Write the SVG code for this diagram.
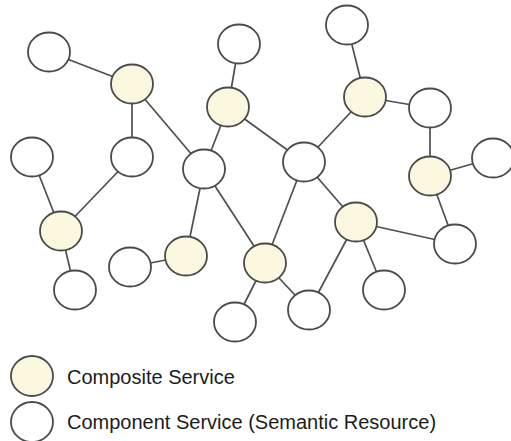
<svg xmlns="http://www.w3.org/2000/svg" width="511" height="441" viewBox="0 0 511 441">
  <style>
    .edge { stroke: #4f4f4f; stroke-width: 1.7; fill: none; }
    .node { stroke: #4a4a4a; stroke-width: 1.8; }
    .composite { fill: #fcf8df; }
    .component { fill: #ffffff; }
    .label { font-family: "Liberation Sans", Arial, sans-serif; font-size: 20px; fill: #1c1c1c; }
  </style>
  <defs>
    <ellipse id="shape" cx="0" cy="0" rx="21" ry="19.5"/>
  </defs>
  <rect width="511" height="441" fill="#ffffff"/>

  <!-- connectors, drawn first so the nodes cover their ends -->
  <g id="connectors" class="edge">
    <line x1="49" y1="52" x2="132" y2="84"/>
    <line x1="132" y1="84" x2="132" y2="157"/>
    <line x1="132" y1="84" x2="204" y2="169"/>
    <line x1="239" y1="44" x2="228" y2="107"/>
    <line x1="228" y1="107" x2="204" y2="169"/>
    <line x1="228" y1="107" x2="304" y2="162"/>
    <line x1="204" y1="169" x2="186" y2="256"/>
    <line x1="204" y1="169" x2="265" y2="263"/>
    <line x1="304" y1="162" x2="365" y2="97"/>
    <line x1="304" y1="162" x2="265" y2="263"/>
    <line x1="304" y1="162" x2="356" y2="222"/>
    <line x1="347" y1="25" x2="365" y2="97"/>
    <line x1="365" y1="97" x2="430" y2="108"/>
    <line x1="430" y1="108" x2="430" y2="176"/>
    <line x1="430" y1="176" x2="493" y2="158"/>
    <line x1="430" y1="176" x2="455" y2="244"/>
    <line x1="356" y1="222" x2="455" y2="244"/>
    <line x1="356" y1="222" x2="309" y2="310"/>
    <line x1="356" y1="222" x2="384" y2="290"/>
    <line x1="265" y1="263" x2="309" y2="310"/>
    <line x1="265" y1="263" x2="235" y2="322"/>
    <line x1="32" y1="157" x2="61" y2="231"/>
    <line x1="132" y1="157" x2="61" y2="231"/>
    <line x1="61" y1="231" x2="75" y2="290"/>
    <line x1="130" y1="267" x2="186" y2="256"/>
  </g>

  <!-- composite services -->
  <g id="n-composite-1"><use href="#shape" x="132" y="84" class="node composite"/></g>
  <g id="n-composite-2"><use href="#shape" x="228" y="107" class="node composite"/></g>
  <g id="n-composite-3"><use href="#shape" x="365" y="97" class="node composite"/></g>
  <g id="n-composite-4"><use href="#shape" x="430" y="176" class="node composite"/></g>
  <g id="n-composite-5"><use href="#shape" x="61" y="231" class="node composite"/></g>
  <g id="n-composite-6"><use href="#shape" x="186" y="256" class="node composite"/></g>
  <g id="n-composite-7"><use href="#shape" x="265" y="263" class="node composite"/></g>
  <g id="n-composite-8"><use href="#shape" x="356" y="222" class="node composite"/></g>

  <!-- component services -->
  <g id="n-component-1"><use href="#shape" x="49" y="52" class="node component"/></g>
  <g id="n-component-2"><use href="#shape" x="239" y="44" class="node component"/></g>
  <g id="n-component-3"><use href="#shape" x="347" y="25" class="node component"/></g>
  <g id="n-component-4"><use href="#shape" x="430" y="108" class="node component"/></g>
  <g id="n-component-5"><use href="#shape" x="493" y="158" class="node component"/></g>
  <g id="n-component-6"><use href="#shape" x="32" y="157" class="node component"/></g>
  <g id="n-component-7"><use href="#shape" x="132" y="157" class="node component"/></g>
  <g id="n-component-8"><use href="#shape" x="204" y="169" class="node component"/></g>
  <g id="n-component-9"><use href="#shape" x="304" y="162" class="node component"/></g>
  <g id="n-component-10"><use href="#shape" x="75" y="290" class="node component"/></g>
  <g id="n-component-11"><use href="#shape" x="130" y="267" class="node component"/></g>
  <g id="n-component-12"><use href="#shape" x="235" y="322" class="node component"/></g>
  <g id="n-component-13"><use href="#shape" x="309" y="310" class="node component"/></g>
  <g id="n-component-14"><use href="#shape" x="384" y="290" class="node component"/></g>
  <g id="n-component-15"><use href="#shape" x="455" y="244" class="node component"/></g>

  <!-- legend -->
  <g id="legend">
    <ellipse cx="32" cy="376" rx="21" ry="20" class="node composite"/>
    <text x="67" y="384" class="label">Composite Service</text>
    <ellipse cx="32" cy="422" rx="21" ry="20" class="node component"/>
    <text x="67" y="429" class="label">Component Service (Semantic Resource)</text>
  </g>
</svg>
